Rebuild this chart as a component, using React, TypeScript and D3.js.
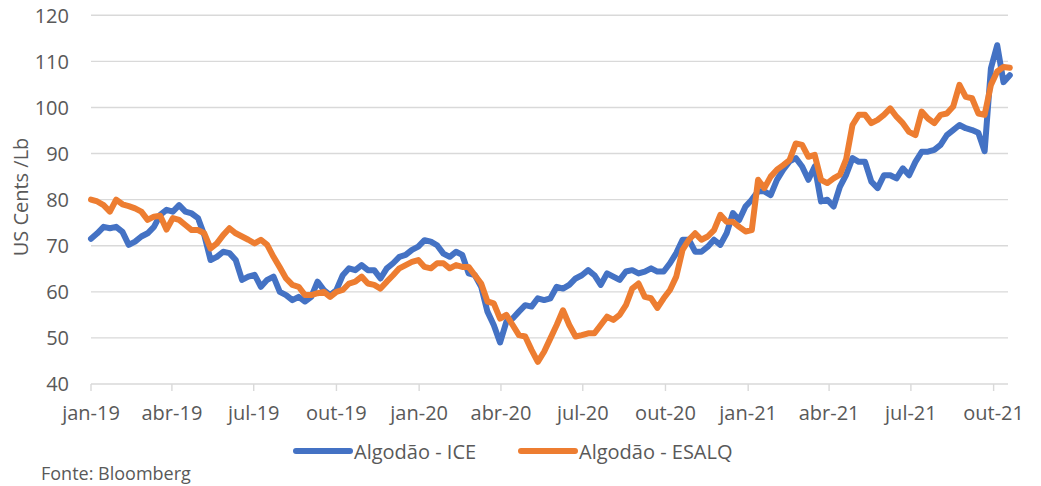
import React from "react";
import * as d3 from "d3";

// ---- Data (weekly readings from the reference) ----
const startDate = new Date(2019, 0, 1);
const stepDays = 7;

const iceValues = [
  71.5, 72.7, 74.1, 73.8, 74.1, 73.0, 70.2, 70.9, 72.0, 72.7,
  74.1, 76.7, 77.8, 77.4, 78.8, 77.4, 77.0, 76.0, 72.3, 66.9,
  67.6, 68.7, 68.4, 66.9, 62.6, 63.3, 63.7, 61.1, 62.6, 63.3,
  60.0, 59.3, 58.2, 58.9, 57.9, 58.9, 62.2, 60.4, 59.3, 60.4,
  63.6, 65.1, 64.7, 65.8, 64.7, 64.7, 62.9, 65.1, 66.2, 67.6,
  68.0, 69.1, 69.8, 71.2, 70.9, 70.1, 68.3, 67.6, 68.7, 68.0,
  64.0, 63.6, 61.1, 55.7, 52.8, 49.0, 53.5, 54.2, 55.7, 57.1,
  56.8, 58.6, 58.2, 58.6, 61.1, 60.7, 61.5, 62.9, 63.6, 64.7,
  63.6, 61.5, 64.0, 63.3, 62.6, 64.4, 64.7, 64.0, 64.4, 65.1,
  64.4, 64.4, 66.2, 68.4, 71.3, 71.3, 68.7, 68.7, 69.8, 71.3,
  70.2, 72.7, 77.1, 75.6, 78.5, 80.0, 81.8, 81.8, 81.0, 84.3,
  86.5, 88.3, 89.0, 87.2, 84.3, 87.2, 79.6, 80.0, 78.5, 82.8,
  85.4, 89.0, 88.2, 88.2, 83.9, 82.5, 85.3, 85.3, 84.6, 86.8,
  85.3, 88.2, 90.4, 90.4, 90.8, 91.9, 94.0, 95.1, 96.2, 95.5,
  95.1, 94.5, 90.5, 108.5, 113.5, 105.5, 107.0,
];

const esalqValues = [
  80.0, 79.6, 78.8, 77.4, 80.0, 79.0, 78.6, 78.1, 77.4, 75.6,
  76.3, 76.5, 73.5, 76.0, 75.6, 74.5, 73.4, 73.4, 72.7, 69.4,
  70.5, 72.3, 73.8, 72.7, 72.0, 71.3, 70.5, 71.3, 70.2, 67.6,
  65.3, 62.9, 61.5, 61.1, 59.3, 59.3, 59.7, 60.0, 58.9, 60.0,
  60.4, 61.8, 62.2, 63.3, 61.8, 61.5, 60.7, 62.2, 63.6, 65.1,
  65.8, 66.5, 66.9, 65.4, 65.1, 66.2, 66.2, 65.1, 65.8, 65.4,
  65.4, 63.6, 61.8, 57.9, 57.5, 54.2, 55.0, 52.8, 50.6, 50.3,
  47.4, 44.8, 47.0, 49.9, 52.8, 56.0, 52.8, 50.3, 50.6, 51.0,
  51.0, 52.8, 54.6, 53.9, 55.0, 57.1, 60.7, 61.8, 58.9, 58.6,
  56.5, 58.6, 60.4, 63.3, 69.1, 71.3, 72.7, 71.3, 72.0, 73.4,
  76.7, 75.2, 75.2, 74.1, 73.1, 73.4, 84.3, 82.5, 85.0, 86.5,
  87.5, 88.6, 92.2, 91.9, 89.3, 89.7, 84.3, 83.6, 84.6, 85.4,
  88.8, 96.2, 98.4, 98.4, 96.6, 97.3, 98.4, 99.8, 98.0, 96.6,
  94.7, 94.0, 99.1, 97.6, 96.6, 98.4, 98.7, 100.2, 104.9, 102.3,
  102.0, 98.7, 98.4, 104.9, 107.8, 108.8, 108.6,
];

const yTicks = [40, 50, 60, 70, 80, 90, 100, 110, 120];
const xTickDates = [
  "2019-01-01", "2019-04-01", "2019-07-01", "2019-10-01",
  "2020-01-01", "2020-04-01", "2020-07-01", "2020-10-01",
  "2021-01-01", "2021-04-01", "2021-07-01", "2021-10-01",
];
const monthNames = ["jan", "fev", "mar", "abr", "mai", "jun", "jul", "ago", "set", "out", "nov", "dez"];
const seriesNames = ["Algodão - ICE", "Algodão - ESALQ"];
const seriesColors = ["#4472C4", "#ED7D31"];
const yAxisTitle = "US Cents /Lb";
const sourceNote = "Fonte: Bloomberg";

const W = 1041;
const H = 486;
const FONT = "'Open Sans', 'Noto Sans', sans-serif";
const TEXT = "#595959";

function parseDate(s: string) {
  const [y, m, d] = s.split("-").map(Number);
  return new Date(y, m - 1, d);
}

export default function App() {
  const x = d3
    .scaleTime()
    .domain([new Date(2019, 0, 1), new Date(2021, 9, 17)])
    .range([91, 1008]);
  const y = d3.scaleLinear().domain([40, 120]).range([384, 15.3]);

  const toPoints = (vals: number[]) =>
    vals.map((v, i) => ({ date: d3.timeDay.offset(startDate, i * stepDays), v }));

  const line = d3
    .line<{ date: Date; v: number }>()
    .x((d) => x(d.date))
    .y((d) => y(d.v));

  const series = [toPoints(iceValues), toPoints(esalqValues)];
  const [x0, x1] = x.range();

  const fmt = (d: Date) => `${monthNames[d.getMonth()]}-${String(d.getFullYear()).slice(2)}`;

  return (
    <svg
      width={W}
      height={H}
      style={{ position: "absolute", left: 0, top: 0, background: "#fff" }}
      fontFamily={FONT}
    >
      {/* gridlines */}
      {yTicks.slice(1).map((t) => (
        <line key={t} x1={x0} x2={x1} y1={y(t)} y2={y(t)} stroke="#d9d9d9" strokeWidth={1.4} />
      ))}
      {/* x axis */}
      <line x1={x0} x2={x1} y1={y(40)} y2={y(40)} stroke="#d9d9d9" strokeWidth={1.4} />
      {xTickDates.map((s) => {
        const d = parseDate(s);
        const px = x(d);
        return (
          <g key={s}>
            <line x1={px} x2={px} y1={y(40)} y2={y(40) + 7} stroke="#d9d9d9" strokeWidth={1.4} />
            <text x={px} y={420} textAnchor="middle" fontSize={20} fill={TEXT}>
              {fmt(d)}
            </text>
          </g>
        );
      })}
      {/* y labels */}
      {yTicks.map((t) => (
        <text key={t} x={69} y={y(t)} dy="0.36em" textAnchor="end" fontSize={20} fill={TEXT}>
          {t}
        </text>
      ))}
      <text
        transform={`translate(28,197) rotate(-90)`}
        textAnchor="middle"
        fontSize={20}
        fill={TEXT}
      >
        {yAxisTitle}
      </text>
      {/* series */}
      {series.map((pts, i) => (
        <path
          key={i}
          d={line(pts) || ""}
          fill="none"
          stroke={seriesColors[i]}
          strokeWidth={6}
          strokeLinejoin="round"
          strokeLinecap="round"
        />
      ))}
      {/* legend */}
      {[296, 521].map((lx, i) => (
        <g key={i}>
          <line x1={lx} x2={lx + 54} y1={451} y2={451} stroke={seriesColors[i]} strokeWidth={6} strokeLinecap="round" />
          <text x={lx + 58} y={459} fontSize={20} fill={TEXT}>
            {seriesNames[i]}
          </text>
        </g>
      ))}
      <text x={41} y={480} fontSize={18} fill={TEXT}>
        {sourceNote}
      </text>
    </svg>
  );
}
